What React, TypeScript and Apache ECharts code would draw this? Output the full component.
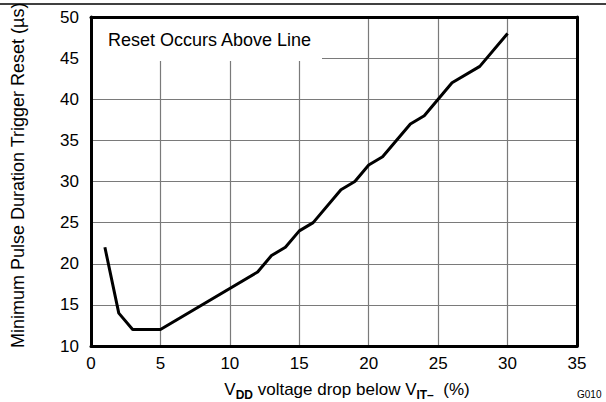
import React, { useEffect, useRef } from "react";
import * as echarts from "echarts";

const xValues = [1, 2, 3, 5, 12, 13, 14, 15, 16, 18, 19, 20, 21, 23, 24, 26, 28, 30];
const yValues = [22, 14, 12, 12, 19, 21, 22, 24, 25, 29, 30, 32, 33, 37, 38, 42, 44, 48];
const xRange = [0, 35];
const yRange = [10, 50];
const tickStep = 5;
const yTitle = "Minimum Pulse Duration Trigger Reset (µs)";
const annotation = "Reset Occurs Above Line";
const figureId = "G010";

const FONT = "'Liberation Sans', Arial, sans-serif";

export default function App() {
  const ref = useRef<HTMLDivElement>(null);
  useEffect(() => {
    if (!ref.current) return;
    const chart = echarts.init(ref.current, null, { renderer: "svg" });
    const data = xValues.map((x, i) => [x, yValues[i]]);
    const borderAxis = {
      axisLine: { show: true, onZero: false, lineStyle: { color: "#000", width: 3 } },
      axisTick: { show: false },
      axisLabel: { show: false },
      splitLine: { show: false },
    };
    chart.setOption({
      animation: false,
      backgroundColor: "#fff",
      textStyle: { fontFamily: FONT },
      grid: { left: 91, right: 29, top: 17, bottom: 56, outerBoundsMode: "none", containLabel: false },
      xAxis: [
        {
          type: "value",
          min: xRange[0],
          max: xRange[1],
          interval: tickStep,
          position: "bottom",
          axisLine: { show: true, onZero: false, lineStyle: { color: "#000", width: 3 } },
          axisTick: { show: false },
          axisLabel: { fontSize: 17, color: "#000", margin: 9, fontFamily: FONT },
          splitLine: {
            show: true,
            showMinLine: false,
            showMaxLine: false,
            lineStyle: { color: "#7a7a7a", width: 1.2 },
          },
          name: "{n|V}{s|DD}{n| voltage drop below V}{s|IT–}{n|  (%)}",
          nameLocation: "middle",
          nameGap: 31,
          nameTextStyle: {
            padding: [0, 0, 0, 26],
            rich: {
              n: { fontSize: 17, color: "#000", fontFamily: FONT, lineHeight: 24, verticalAlign: "middle" },
              s: { fontSize: 12, fontWeight: "bold", color: "#000", fontFamily: FONT, lineHeight: 13, verticalAlign: "bottom" },
            },
          },
        },
        { type: "value", min: xRange[0], max: xRange[1], interval: tickStep, position: "top", ...borderAxis },
      ],
      yAxis: [
        {
          type: "value",
          min: yRange[0],
          max: yRange[1],
          interval: tickStep,
          position: "left",
          axisLine: { show: true, onZero: false, lineStyle: { color: "#000", width: 3 } },
          axisTick: { show: false },
          axisLabel: { fontSize: 17, color: "#000", margin: 12, fontFamily: FONT },
          splitLine: {
            show: true,
            showMinLine: false,
            showMaxLine: false,
            lineStyle: { color: "#7a7a7a", width: 1.2 },
          },
        },
        { type: "value", min: yRange[0], max: yRange[1], interval: tickStep, position: "right", ...borderAxis },
      ],
      series: [
        {
          type: "line",
          data,
          xAxisIndex: 0,
          yAxisIndex: 0,
          showSymbol: false,
          symbol: "none",
          lineStyle: { color: "#000", width: 3 },
          z: 3,
        },
      ],
      graphic: [
        {
          type: "line",
          shape: { x1: 0, y1: 4, x2: 606, y2: 4 },
          style: { stroke: "#000", lineWidth: 1.5 },
          z: 10,
        },
        {
          type: "rect",
          shape: { x: 93, y: 19, width: 229, height: 42 },
          style: { fill: "#fff" },
          z: 5,
        },
        {
          type: "text",
          x: 108,
          y: 40,
          style: { text: annotation, fontSize: 18, fontFamily: FONT, fill: "#000", verticalAlign: "middle", align: "left" },
          z: 6,
        },
        {
          type: "text",
          x: 18,
          y: 348,
          rotation: Math.PI / 2,
          style: { text: yTitle, fontSize: 18, fontFamily: FONT, fill: "#000", verticalAlign: "middle", align: "left" },
          z: 6,
        },
        {
          type: "text",
          x: 577,
          y: 394,
          style: { text: figureId, fontSize: 10, fontFamily: FONT, fill: "#000", verticalAlign: "middle", align: "left" },
          z: 6,
        },
      ],
    });
    return () => chart.dispose();
  }, []);
  return (
    <div
      ref={ref}
      style={{ position: "absolute", left: 0, top: 0, width: 606, height: 402 }}
    />
  );
}
